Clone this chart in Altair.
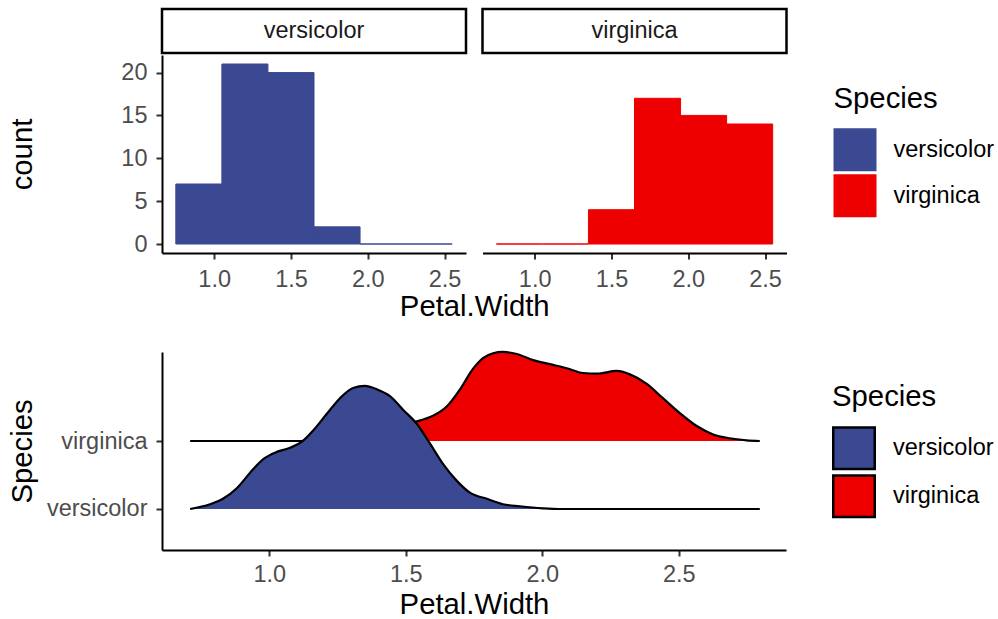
import altair as alt
import pandas as pd

FONT = "Liberation Sans"
LAB = 23.5
TIT = 29.3

# ---------------- data ----------------
species = ["versicolor", "virginica"]
colors = ["#3B4992", "#EE0000"]

bin_start = [0.75, 1.05, 1.35, 1.65, 1.95, 2.25]
bin_width = 0.3
count_versicolor = [7, 21, 20, 2, 0, 0]
count_virginica = [0, 0, 4, 17, 15, 14]

# ridgeline density heights (in units of ridge spacing)
dens_x_versicolor = [0.710, 0.783, 0.830, 0.882, 0.929, 0.977, 1.028, 1.076, 1.120, 1.160,
                     1.211, 1.259, 1.307, 1.350, 1.394, 1.442, 1.490, 1.541, 1.589, 1.637,
                     1.688, 1.735, 1.797, 1.856, 1.918, 2.002, 2.060, 2.400, 2.797]
dens_h_versicolor = [0.00, 0.07, 0.15, 0.31, 0.53, 0.73, 0.84, 0.90, 0.99, 1.15,
                     1.40, 1.63, 1.78, 1.81, 1.76, 1.66, 1.46, 1.25, 0.96, 0.66,
                     0.41, 0.24, 0.15, 0.07, 0.04, 0.01, 0.00, 0.00, 0.00]
dens_x_virginica = [0.710, 1.000, 1.112, 1.222, 1.314, 1.406, 1.479, 1.541, 1.600, 1.651,
                    1.699, 1.746, 1.783, 1.820, 1.856, 1.907, 1.966, 2.028, 2.090, 2.149,
                    2.200, 2.273, 2.321, 2.383, 2.442, 2.504, 2.566, 2.624, 2.686, 2.748, 2.797]
dens_h_virginica = [0.00, 0.00, 0.00, 0.03, 0.08, 0.17, 0.25, 0.29, 0.37, 0.51,
                    0.76, 1.06, 1.22, 1.29, 1.31, 1.28, 1.19, 1.13, 1.07, 1.00,
                    0.99, 1.03, 0.98, 0.84, 0.63, 0.41, 0.22, 0.10, 0.04, 0.01, 0.00]

x_ticks = [1.0, 1.5, 2.0, 2.5]
y_ticks = [0, 5, 10, 15, 20]

# ---------------- tables ----------------
hist_rows = []
for sp, counts in zip(species, [count_versicolor, count_virginica]):
    for s, c in zip(bin_start, counts):
        hist_rows.append({"species": sp, "start": s, "end": s + bin_width, "count": c})
hist_df = pd.DataFrame(hist_rows)

dens_rows = []
for i, (sp, xs, hs) in enumerate(zip(species,
                                     [dens_x_versicolor, dens_x_virginica],
                                     [dens_h_versicolor, dens_h_virginica])):
    for x, h in zip(xs, hs):
        dens_rows.append({"species": sp, "pw": x, "h": h, "base": i + 1})
dens_df = pd.DataFrame(dens_rows)

color_scale = alt.Scale(domain=species, range=colors)

axis_common = dict(
    domainColor="black", domainWidth=2, tickColor="#333333", tickWidth=2, tickSize=6,
    labelFontSize=LAB, labelColor="#4D4D4D", labelFont=FONT,
    titleFontSize=TIT, titleColor="black", titleFont=FONT, titleFontWeight="normal",
    grid=False,
)

PW = 304
PH = 198
SH = 44


def strip(name):
    return alt.Chart(pd.DataFrame({"label": [name]})).mark_text(
        fontSize=LAB, color="#1A1A1A", font=FONT, baseline="middle"
    ).encode(text="label:N").properties(
        width=PW, height=SH,
        view=alt.ViewBackground(stroke="black", strokeWidth=2.5, fill="white"),
    )


def hist(name, first):
    legend = None if first else alt.Legend(
        title="Species", orient="none", legendX=351, legendY=76,
        symbolType="square", symbolSize=1849, symbolStrokeWidth=0,
        rowPadding=3, labelOffset=17, titlePadding=14,
        titleFontSize=TIT, labelFontSize=LAB, labelColor="black", titleColor="black",
        titleFontWeight="normal", labelFont=FONT, titleFont=FONT,
    )
    xaxis = alt.Axis(values=x_ticks, format=".1f", title=None, labelPadding=8, **axis_common)
    yscale = alt.Scale(domain=[-1.05, 22.05], nice=False, zero=False)
    if first:
        y = alt.Y("count:Q", scale=yscale,
                  axis=alt.Axis(values=y_ticks, title="count", titleX=-131, labelPadding=9,
                                titleBaseline="alphabetic", **axis_common))
    else:
        y = alt.Y("count:Q", scale=yscale, axis=None)
    return alt.Chart(hist_df).transform_filter(
        alt.datum.species == name
    ).transform_calculate(zero="0").mark_bar(strokeWidth=1, opacity=1).encode(
        x=alt.X("start:Q", scale=alt.Scale(domain=[0.66, 2.64], nice=False, zero=False), axis=xaxis),
        x2="end:Q",
        y=y,
        y2="zero:Q",
        color=alt.Color("species:N", scale=color_scale, legend=legend),
        stroke=alt.Stroke("species:N", scale=color_scale, legend=None),
    ).properties(width=PW, height=PH)


leg_bottom = alt.Legend(
    title="Species", orient="none", legendX=670, legendY=31,
    symbolType="square", symbolSize=1722, symbolStrokeColor="black", symbolStrokeWidth=2.5,
    rowPadding=-9, labelOffset=17, titlePadding=14,
    titleFontSize=TIT, labelFontSize=LAB, labelColor="black", titleColor="black",
    titleFontWeight="normal", labelFont=FONT, titleFont=FONT,
)

label_expr = "['" + "','".join(species) + "'][datum.value - 1]"
xs_b = alt.Scale(domain=[0.607, 2.893], nice=False, zero=False)
ys_b = alt.Scale(domain=[0.397, 3.309], nice=False, zero=False)

dens_base = alt.Chart(dens_df).transform_calculate(top="datum.base + datum.h")

layers = []
for sp in ["virginica", "versicolor"]:
    b = dens_base.transform_filter(alt.datum.species == sp)
    area = b.mark_area(interpolate="monotone", opacity=1).encode(
        x=alt.X("pw:Q", scale=xs_b,
                axis=alt.Axis(values=x_ticks, format=".1f", title="Petal.Width", titlePadding=5,
                              labelPadding=6, **axis_common)),
        y=alt.Y("top:Q", scale=ys_b,
                axis=alt.Axis(values=[1, 2], labelExpr=label_expr, title="Species", titleX=-131,
                              labelPadding=9, titleBaseline="alphabetic", **axis_common)),
        y2="base:Q",
        color=alt.Color("species:N", scale=color_scale, legend=leg_bottom),
    )
    line = b.mark_line(interpolate="monotone", color="black", strokeWidth=2.2).encode(
        x="pw:Q", y="top:Q")
    layers += [area, line]

density = alt.layer(*layers).properties(width=2 * PW + 16, height=PH)

top_row = alt.hconcat(
    alt.vconcat(strip("versicolor"), hist("versicolor", True), spacing=-3),
    alt.vconcat(strip("virginica"), hist("virginica", False), spacing=-3),
    spacing=12.5,
).properties(
    title=alt.TitleParams("Petal.Width", orient="bottom", anchor="middle", fontSize=TIT,
                          font=FONT, fontWeight="normal", color="black", offset=2, dx=-26.5)
).resolve_scale(color="independent", stroke="independent").resolve_legend(
    color="independent", stroke="independent")

chart = alt.vconcat(top_row, density, spacing=25).resolve_scale(
    color="independent", stroke="independent"
).resolve_legend(color="independent", stroke="independent").properties(
    padding={"left": 8, "top": 7, "right": 0, "bottom": 0},
    background="white",
).configure(font=FONT, view=alt.ViewConfig(stroke="transparent", strokeWidth=0))

chart.save("out.html", embed_options={"renderer": "svg", "actions": False})
